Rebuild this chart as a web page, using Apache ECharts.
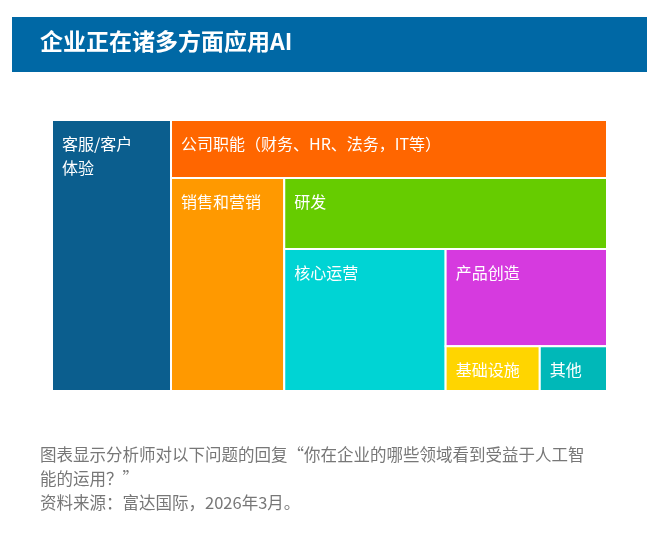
<!DOCTYPE html>
<html><head><meta charset="utf-8">
<script src="https://cdn.jsdelivr.net/npm/echarts@6/dist/echarts.min.js"></script>
<style>html,body{margin:0;padding:0;background:#fff}#c{width:660px;height:558px}</style>
</head><body><div id="c"></div>
<script>
const categories = ['客服/客户\n体验','公司职能（财务、HR、法务，IT等）','销售和营销','研发','核心运营','产品创造','基础设施','其他'];
const values = [21.4,16.8,16.0,15.2,15.2,10.4,2.8,2.0];
const colors = ['#0b5e8e','#ff6600','#ff9900','#66cc00','#00d4d4','#d63adf','#ffd500','#00b8b8'];

// alternating slice-and-dice layout computed from values (unit square)
const cells = [];
(function(){
  let x0=0,y0=0,x1=1,y1=1,rem=values.reduce((a,b)=>a+b,0);
  values.forEach((v,i)=>{
    const last = i===values.length-1;
    const f = last?1:v/rem;
    if(i%2===0){ const xm=x0+(x1-x0)*f; cells.push([x0,y0,xm,y1,i]); x0=xm; }
    else { const ym=y0+(y1-y0)*f; cells.push([x0,y0,x1,ym,i]); y0=ym; }
    rem-=v;
  });
})();

const chart = echarts.init(document.getElementById('c'));
chart.setOption({
  animation:false,
  grid:{left:52,top:120,width:555,height:271},
  xAxis:{type:'value',min:0,max:1,show:false},
  yAxis:{type:'value',min:0,max:1,inverse:true,show:false},
  graphic:[
    {type:'rect',shape:{x:12,y:17,width:635,height:55},style:{fill:'#0068a5'}},
    {type:'text',left:40,top:30,style:{text:'企业正在诸多方面应用AI',fill:'#fff',font:'bold 23px "Noto Sans CJK SC"'}},
    {type:'text',left:40,top:443,style:{text:'图表显示分析师对以下问题的回复“你在企业的哪些领域看到受益于人工智\n能的运用？”\n资料来源：富达国际，2026年3月。',fill:'#777',font:'16.5px "Noto Sans CJK SC"',lineHeight:24}}
  ],
  series:[{
    type:'custom',
    data:cells,
    renderItem:function(params,api){
      const p0=api.coord([api.value(0),api.value(1)]);
      const p1=api.coord([api.value(2),api.value(3)]);
      const i=api.value(4);
      return {type:'group',children:[
        {type:'rect',shape:{x:p0[0],y:p0[1],width:p1[0]-p0[0],height:p1[1]-p0[1]},
         style:{fill:colors[i],stroke:'#fff',lineWidth:2}},
        {type:'text',x:p0[0]+10,y:p0[1]+12,
         style:{text:categories[i],fill:'#fff',font:'16px "Noto Sans CJK SC"',lineHeight:24}}
      ]};
    }
  }]
});
</script></body></html>
